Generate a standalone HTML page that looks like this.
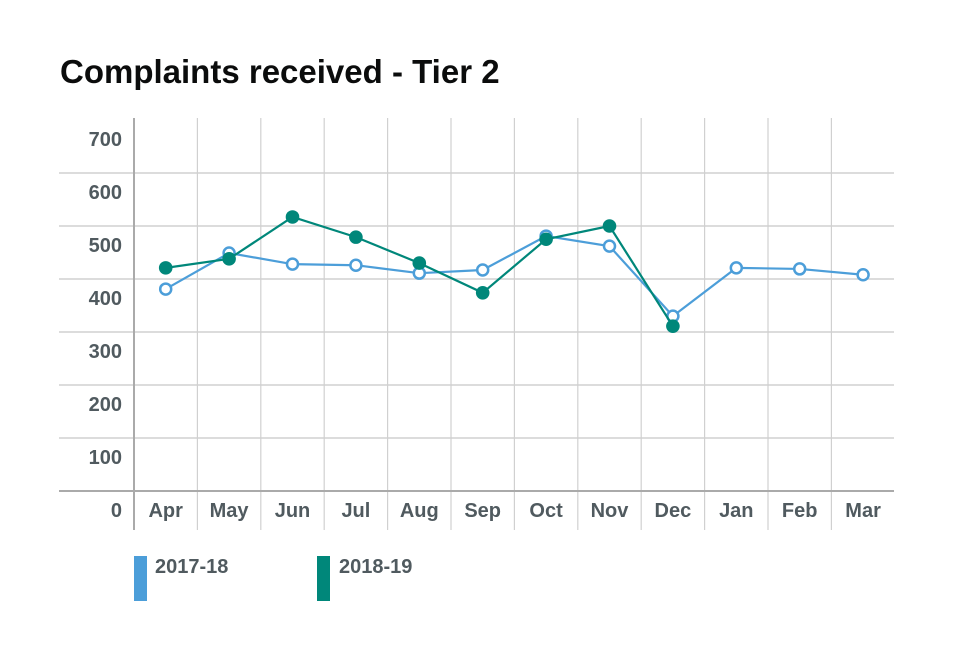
<!DOCTYPE html>
<html><head><meta charset="utf-8"><style>
body{margin:0;background:#fff;font-family:"Liberation Sans",sans-serif}
svg text{font-family:"Liberation Sans",sans-serif;font-weight:bold}
</style></head><body>
<svg width="960" height="640">
<text x="60" y="83" font-size="33" fill="#0b0c0c">Complaints received - Tier 2</text>
<g id="grid"></g><g id="series"></g>
<g>
<rect x="134" y="556" width="13" height="45" fill="#4c9ed9"/>
<text x="155" y="573" font-size="20" fill="#505a5f">2017-18</text>
<rect x="317" y="556" width="13" height="45" fill="#00877a"/>
<text x="339" y="573" font-size="20" fill="#505a5f">2018-19</text>
</g>
</svg>
<script>
const categories=["Apr","May","Jun","Jul","Aug","Sep","Oct","Nov","Dec","Jan","Feb","Mar"];
const series2017=[381,449,428,426,411,417,481,462,330,421,419,408];
const series2018=[421,438,517,479,430,374,475,500,311];
const yTicks=[0,100,200,300,400,500,600,700];
const NS="http://www.w3.org/2000/svg";
const x0=134,step=63.4,y0=491,k=0.53;
const xs=i=>x0+step*(i+0.5), ys=v=>y0-v*k;
function mk(t,a,p){const e=document.createElementNS(NS,t);for(const n in a)e.setAttribute(n,a[n]);p.appendChild(e);return e;}
const g=document.getElementById('grid'),s=document.getElementById('series');
yTicks.forEach(v=>{
 if(v>0&&v<700){const l=mk('line',{x1:59,x2:894,y1:ys(v),y2:ys(v),stroke:'#d0d0d0','stroke-width':1.5},g);
 
 }
 const t=mk('text',{x:122,y:ys(v)+26,'text-anchor':'end','font-size':20,fill:'#505a5f'},g);t.textContent=v;
 
 
});
for(let i=1;i<12;i++){const l=mk('line',{x1:x0+step*i,x2:x0+step*i,y1:118,y2:530,stroke:'#d0d0d0','stroke-width':1.2},g);
 
 }
categories.forEach((c,i)=>{const t=mk('text',{x:xs(i),y:517,'text-anchor':'middle','font-size':20,fill:'#505a5f'},g);t.textContent=c;
 
 });
const ax=mk('line',{x1:59,x2:894,y1:y0,y2:y0,stroke:'#aaa','stroke-width':2},g);


const ay=mk('line',{x1:x0,x2:x0,y1:118,y2:530,stroke:'#aaa','stroke-width':2},g);


function draw(data,color,hollow,name){
 const p=mk('polyline',{points:data.map((v,i)=>xs(i)+','+ys(v)).join(' '),fill:'none',stroke:color,'stroke-width':2.2},s);
 
 
 data.forEach((v,i)=>{const c=mk('circle',{cx:xs(i),cy:ys(v),r:hollow?5.5:6.8,fill:hollow?'#fff':color,stroke:color,'stroke-width':hollow?2.5:0},s);
 
 });
}
draw(series2017,'#4c9ed9',true,'2017-18');
draw(series2018,'#00877a',false,'2018-19');
</script>
</body></html>
